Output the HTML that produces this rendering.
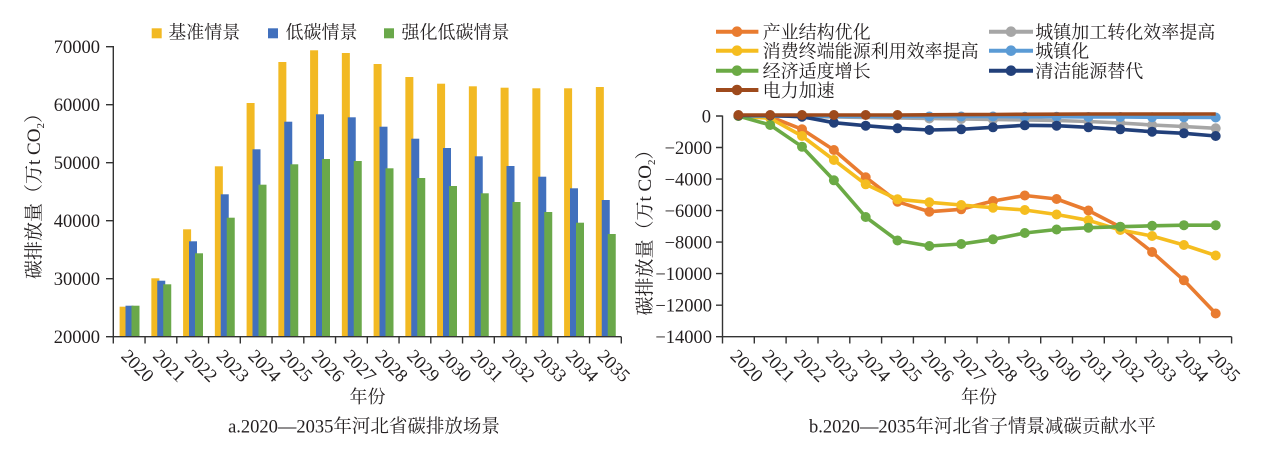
<!DOCTYPE html>
<html>
<head>
<meta charset="utf-8">
<style>
html,body{margin:0;padding:0;background:#fff;}
svg{display:block;}
.num{font-family:"Liberation Serif","Noto Serif CJK SC",serif;font-size:18.5px;fill:#231f20;}
.cjk{font-family:"Liberation Serif","Noto Serif CJK SC","Noto Sans CJK SC",serif;font-size:18px;fill:#231f20;}
.cap{font-family:"Liberation Serif","Noto Serif CJK SC","Noto Sans CJK SC",serif;font-size:18.5px;fill:#231f20;}
</style>
</head>
<body>
<svg width="1268" height="463" viewBox="0 0 1268 463" xmlns="http://www.w3.org/2000/svg">
<rect width="1268" height="463" fill="#fff"/>

<!-- ================= LEFT CHART ================= -->
<!-- legend -->
<rect x="151.7" y="28.3" width="10" height="10" fill="#F2B923"/>
<text class="cjk" x="168.3" y="38.5">基准情景</text>
<rect x="268" y="28.3" width="10" height="10" fill="#4170BD"/>
<text class="cjk" x="285.5" y="38.5">低碳情景</text>
<rect x="384" y="28.3" width="10" height="10" fill="#6AA84A"/>
<text class="cjk" x="401.5" y="38.5">强化低碳情景</text>

<!-- bars yellow -->
<g fill="#F2B923">
<rect x="119.6" y="306.7" width="8" height="30"/>
<rect x="151.35" y="278.3" width="8" height="58.4"/>
<rect x="183.1" y="229.3" width="8" height="107.4"/>
<rect x="214.85" y="166.3" width="8" height="170.4"/>
<rect x="246.6" y="103" width="8" height="233.7"/>
<rect x="278.35" y="62" width="8" height="274.7"/>
<rect x="310.1" y="50.3" width="8" height="286.4"/>
<rect x="341.85" y="53" width="8" height="283.7"/>
<rect x="373.6" y="64" width="8" height="272.7"/>
<rect x="405.35" y="77" width="8" height="259.7"/>
<rect x="437.1" y="83.7" width="8" height="253"/>
<rect x="468.85" y="86.3" width="8" height="250.4"/>
<rect x="500.6" y="87.7" width="8" height="249"/>
<rect x="532.35" y="88.3" width="8" height="248.4"/>
<rect x="564.1" y="88.3" width="8" height="248.4"/>
<rect x="595.85" y="87" width="8" height="249.7"/>
</g>
<!-- bars blue -->
<g fill="#4170BD">
<rect x="125.5" y="305.7" width="8" height="31"/>
<rect x="157.25" y="280.7" width="8" height="56"/>
<rect x="189.0" y="241.3" width="8" height="95.4"/>
<rect x="220.75" y="194.3" width="8" height="142.4"/>
<rect x="252.5" y="149.3" width="8" height="187.4"/>
<rect x="284.25" y="121.7" width="8" height="215"/>
<rect x="316.0" y="114.3" width="8" height="222.4"/>
<rect x="347.75" y="117.3" width="8" height="219.4"/>
<rect x="379.5" y="126.7" width="8" height="210"/>
<rect x="411.25" y="138.7" width="8" height="198"/>
<rect x="443.0" y="148" width="8" height="188.7"/>
<rect x="474.75" y="156.3" width="8" height="180.4"/>
<rect x="506.5" y="166" width="8" height="170.7"/>
<rect x="538.25" y="176.7" width="8" height="160"/>
<rect x="570.0" y="188.3" width="8" height="148.4"/>
<rect x="601.75" y="200" width="8" height="136.7"/>
</g>
<!-- bars green -->
<g fill="#6AA84A">
<rect x="131.5" y="305.7" width="8" height="31"/>
<rect x="163.25" y="284.3" width="8" height="52.4"/>
<rect x="195.0" y="253.3" width="8" height="83.4"/>
<rect x="226.75" y="217.7" width="8" height="119"/>
<rect x="258.5" y="184.7" width="8" height="152"/>
<rect x="290.25" y="164.3" width="8" height="172.4"/>
<rect x="322.0" y="159" width="8" height="177.7"/>
<rect x="353.75" y="161" width="8" height="175.7"/>
<rect x="385.5" y="168.3" width="8" height="168.4"/>
<rect x="417.25" y="178" width="8" height="158.7"/>
<rect x="449.0" y="186" width="8" height="150.7"/>
<rect x="480.75" y="193.3" width="8" height="143.4"/>
<rect x="512.5" y="202" width="8" height="134.7"/>
<rect x="544.25" y="212" width="8" height="124.7"/>
<rect x="576.0" y="222.7" width="8" height="114"/>
<rect x="607.75" y="234" width="8" height="102.7"/>
</g>

<!-- left axes -->
<g stroke="#333" stroke-width="1.4" fill="none">
<line x1="113.3" y1="46" x2="113.3" y2="337.2"/>
<line x1="112.6" y1="336.7" x2="621.3" y2="336.7"/>
<line x1="106" y1="46.7" x2="113.3" y2="46.7"/>
<line x1="106" y1="104.7" x2="113.3" y2="104.7"/>
<line x1="106" y1="162.7" x2="113.3" y2="162.7"/>
<line x1="106" y1="220.7" x2="113.3" y2="220.7"/>
<line x1="106" y1="278.7" x2="113.3" y2="278.7"/>
<line x1="106" y1="336.7" x2="113.3" y2="336.7"/>
<path d="M113.3 336.7V343.5M145.05 336.7V343.5M176.8 336.7V343.5M208.55 336.7V343.5M240.3 336.7V343.5M272.05 336.7V343.5M303.8 336.7V343.5M335.55 336.7V343.5M367.3 336.7V343.5M399.05 336.7V343.5M430.8 336.7V343.5M462.55 336.7V343.5M494.3 336.7V343.5M526.05 336.7V343.5M557.8 336.7V343.5M589.55 336.7V343.5M621.3 336.7V343.5"/>
</g>
<g class="num" text-anchor="end">
<text x="100" y="53.2">70000</text>
<text x="100" y="111.2">60000</text>
<text x="100" y="169.2">50000</text>
<text x="100" y="227.2">40000</text>
<text x="100" y="285.2">30000</text>
<text x="100" y="343.2">20000</text>
</g>
<g class="num">
<text transform="translate(120.2,357) rotate(45)">2020</text>
<text transform="translate(151.95,357) rotate(45)">2021</text>
<text transform="translate(183.7,357) rotate(45)">2022</text>
<text transform="translate(215.45,357) rotate(45)">2023</text>
<text transform="translate(247.2,357) rotate(45)">2024</text>
<text transform="translate(278.95,357) rotate(45)">2025</text>
<text transform="translate(310.7,357) rotate(45)">2026</text>
<text transform="translate(342.45,357) rotate(45)">2027</text>
<text transform="translate(374.2,357) rotate(45)">2028</text>
<text transform="translate(405.95,357) rotate(45)">2029</text>
<text transform="translate(437.7,357) rotate(45)">2030</text>
<text transform="translate(469.45,357) rotate(45)">2031</text>
<text transform="translate(501.2,357) rotate(45)">2032</text>
<text transform="translate(532.95,357) rotate(45)">2033</text>
<text transform="translate(564.7,357) rotate(45)">2034</text>
<text transform="translate(596.45,357) rotate(45)">2035</text>
</g>
<text class="cjk" x="367.5" y="402.8" text-anchor="middle">年份</text>
<text class="cap" x="364" y="432.3" text-anchor="middle">a.2020—2035年河北省碳排放场景</text>
<text class="cjk" style="font-size:19px" transform="translate(33,191.5) rotate(-90)" x="0" y="7" text-anchor="middle">碳排放量（万t CO<tspan font-size="11" dy="4">2</tspan><tspan dy="-4">）</tspan></text>

<!-- ================= RIGHT CHART ================= -->
<!-- legend -->
<g stroke-width="4" fill="none">
<line x1="716" y1="31.7" x2="758.4" y2="31.7" stroke="#E97C30"/>
<line x1="716" y1="50.7" x2="758.4" y2="50.7" stroke="#F5BD1F"/>
<line x1="716" y1="70.7" x2="758.4" y2="70.7" stroke="#6BAA45"/>
<line x1="716" y1="90" x2="758.4" y2="90" stroke="#9E4A1C"/>
<line x1="989" y1="31.7" x2="1033" y2="31.7" stroke="#A6A6A6"/>
<line x1="989" y1="50.7" x2="1033" y2="50.7" stroke="#5B9BD5"/>
<line x1="989" y1="70.7" x2="1033" y2="70.7" stroke="#22407A"/>
</g>
<circle cx="737" cy="31.7" r="5.3" fill="#E97C30"/>
<circle cx="737" cy="50.7" r="5.3" fill="#F5BD1F"/>
<circle cx="737" cy="70.7" r="5.3" fill="#6BAA45"/>
<circle cx="737" cy="90" r="5.3" fill="#9E4A1C"/>
<circle cx="1011" cy="31.7" r="5.3" fill="#A6A6A6"/>
<circle cx="1011" cy="50.7" r="5.3" fill="#5B9BD5"/>
<circle cx="1011" cy="70.7" r="5.3" fill="#22407A"/>
<g class="cjk">
<text x="762.6" y="38.5">产业结构优化</text>
<text x="762.6" y="57.5">消费终端能源利用效率提高</text>
<text x="762.6" y="77.5">经济适度增长</text>
<text x="762.6" y="96.8">电力加速</text>
<text x="1035.3" y="38.5">城镇加工转化效率提高</text>
<text x="1035.3" y="57.5">城镇化</text>
<text x="1035.3" y="77.5">清洁能源替代</text>
</g>

<!-- right axes -->
<g stroke="#333" stroke-width="1.4" fill="none">
<line x1="722.5" y1="115.5" x2="722.5" y2="337.2"/>
<line x1="721.8" y1="336.7" x2="1231.6" y2="336.7"/>
<path d="M716 116H722.5M716 147.5H722.5M716 179.1H722.5M716 210.6H722.5M716 242.1H722.5M716 273.6H722.5M716 305.2H722.5M716 336.7H722.5"/>
<path d="M722.5 336.7V343.5M754.3 336.7V343.5M786.1 336.7V343.5M818 336.7V343.5M849.8 336.7V343.5M881.6 336.7V343.5M913.4 336.7V343.5M945.2 336.7V343.5M977.1 336.7V343.5M1008.9 336.7V343.5M1040.7 336.7V343.5M1072.5 336.7V343.5M1104.3 336.7V343.5M1136.2 336.7V343.5M1168 336.7V343.5M1199.8 336.7V343.5M1231.6 336.7V343.5"/>
</g>
<g class="num" text-anchor="end">
<text x="711" y="122.5">0</text>
<text x="712" y="154">−2000</text>
<text x="712" y="185.6">−4000</text>
<text x="712" y="217.1">−6000</text>
<text x="712" y="248.6">−8000</text>
<text x="712" y="280.1">−10000</text>
<text x="712" y="311.7">−12000</text>
<text x="712" y="343.2">−14000</text>
</g>
<g class="num">
<text transform="translate(729.4,357) rotate(45)">2020</text>
<text transform="translate(761.2,357) rotate(45)">2021</text>
<text transform="translate(793.0,357) rotate(45)">2022</text>
<text transform="translate(824.9,357) rotate(45)">2023</text>
<text transform="translate(856.7,357) rotate(45)">2024</text>
<text transform="translate(888.5,357) rotate(45)">2025</text>
<text transform="translate(920.3,357) rotate(45)">2026</text>
<text transform="translate(952.2,357) rotate(45)">2027</text>
<text transform="translate(984.0,357) rotate(45)">2028</text>
<text transform="translate(1015.8,357) rotate(45)">2029</text>
<text transform="translate(1047.6,357) rotate(45)">2030</text>
<text transform="translate(1079.4,357) rotate(45)">2031</text>
<text transform="translate(1111.3,357) rotate(45)">2032</text>
<text transform="translate(1143.1,357) rotate(45)">2033</text>
<text transform="translate(1174.9,357) rotate(45)">2034</text>
<text transform="translate(1206.7,357) rotate(45)">2035</text>
</g>
<text class="cjk" x="979" y="402.8" text-anchor="middle">年份</text>
<text class="cap" x="982.5" y="432.3" text-anchor="middle">b.2020—2035年河北省子情景减碳贡献水平</text>
<text class="cjk" style="font-size:19px" transform="translate(644,228) rotate(-90)" x="0" y="7" text-anchor="middle">碳排放量（万t CO<tspan font-size="11" dy="4">2</tspan><tspan dy="-4">）</tspan></text>

<!-- series: orange -->
<g fill="#E97C30">
<polyline fill="none" stroke="#E97C30" stroke-width="3.6" stroke-linejoin="round" points="738.4,116 770.2,116.7 802.0,129.3 833.9,150 865.7,177.3 897.5,201.7 929.3,211.7 961.2,209.3 993.0,201 1024.8,195.5 1056.6,199 1088.4,210.5 1120.3,227 1152.1,252 1183.9,280.3 1215.7,313.5"/>
<circle cx="738.4" cy="116" r="5"/><circle cx="770.2" cy="116.7" r="5"/><circle cx="802.0" cy="129.3" r="5"/><circle cx="833.9" cy="150" r="5"/><circle cx="865.7" cy="177.3" r="5"/><circle cx="897.5" cy="201.7" r="5"/><circle cx="929.3" cy="211.7" r="5"/><circle cx="961.2" cy="209.3" r="5"/><circle cx="993.0" cy="201" r="5"/><circle cx="1024.8" cy="195.5" r="5"/><circle cx="1056.6" cy="199" r="5"/><circle cx="1088.4" cy="210.5" r="5"/><circle cx="1120.3" cy="227" r="5"/><circle cx="1152.1" cy="252" r="5"/><circle cx="1183.9" cy="280.3" r="5"/><circle cx="1215.7" cy="313.5" r="5"/>
</g>
<!-- grey -->
<g fill="#A6A6A6">
<polyline fill="none" stroke="#A6A6A6" stroke-width="3.6" stroke-linejoin="round" points="738.4,116 770.2,116 802.0,116.5 833.9,117 865.7,117.5 897.5,118 929.3,118.5 961.2,119 993.0,119.5 1024.8,120 1056.6,120.5 1088.4,121.5 1120.3,123 1152.1,125 1183.9,126.5 1215.7,128.3"/>
<circle cx="929.3" cy="118.5" r="5"/><circle cx="961.2" cy="119" r="5"/><circle cx="993.0" cy="119.5" r="5"/><circle cx="1024.8" cy="120" r="5"/><circle cx="1056.6" cy="120.5" r="5"/><circle cx="1088.4" cy="121.5" r="5"/><circle cx="1120.3" cy="123" r="5"/><circle cx="1152.1" cy="125" r="5"/><circle cx="1183.9" cy="126.5" r="5"/><circle cx="1215.7" cy="128.3" r="5"/>
</g>
<!-- yellow -->
<g fill="#F5BD1F">
<polyline fill="none" stroke="#F5BD1F" stroke-width="3.6" stroke-linejoin="round" points="738.4,116 770.2,118.3 802.0,136 833.9,160 865.7,184.3 897.5,199.3 929.3,202.3 961.2,205 993.0,207.7 1024.8,210 1056.6,214.5 1088.4,220.3 1120.3,230 1152.1,236 1183.9,245 1215.7,255.5"/>
<circle cx="738.4" cy="116" r="5"/><circle cx="770.2" cy="118.3" r="5"/><circle cx="802.0" cy="136" r="5"/><circle cx="833.9" cy="160" r="5"/><circle cx="865.7" cy="184.3" r="5"/><circle cx="897.5" cy="199.3" r="5"/><circle cx="929.3" cy="202.3" r="5"/><circle cx="961.2" cy="205" r="5"/><circle cx="993.0" cy="207.7" r="5"/><circle cx="1024.8" cy="210" r="5"/><circle cx="1056.6" cy="214.5" r="5"/><circle cx="1088.4" cy="220.3" r="5"/><circle cx="1120.3" cy="230" r="5"/><circle cx="1152.1" cy="236" r="5"/><circle cx="1183.9" cy="245" r="5"/><circle cx="1215.7" cy="255.5" r="5"/>
</g>
<!-- light blue -->
<g fill="#5B9BD5">
<polyline fill="none" stroke="#5B9BD5" stroke-width="3.6" stroke-linejoin="round" points="738.4,116 770.2,116 802.0,116 833.9,116.3 865.7,116.5 897.5,116.5 929.3,116.5 961.2,116.5 993.0,116.5 1024.8,116.7 1056.6,116.7 1088.4,117 1120.3,117 1152.1,117.2 1183.9,117.3 1215.7,117.5"/>
<circle cx="929.3" cy="116.5" r="5"/><circle cx="961.2" cy="116.5" r="5"/><circle cx="993.0" cy="116.5" r="5"/><circle cx="1024.8" cy="116.7" r="5"/><circle cx="1056.6" cy="116.7" r="5"/><circle cx="1088.4" cy="117" r="5"/><circle cx="1120.3" cy="117" r="5"/><circle cx="1152.1" cy="117.2" r="5"/><circle cx="1183.9" cy="117.3" r="5"/><circle cx="1215.7" cy="117.5" r="5"/>
</g>
<!-- green -->
<g fill="#6BAA45">
<polyline fill="none" stroke="#6BAA45" stroke-width="3.6" stroke-linejoin="round" points="738.4,116 770.2,125 802.0,146.7 833.9,180.3 865.7,217 897.5,240.5 929.3,246 961.2,244 993.0,239.3 1024.8,233 1056.6,229.5 1088.4,227.7 1120.3,226.7 1152.1,225.8 1183.9,225.2 1215.7,225.2"/>
<circle cx="738.4" cy="116" r="5"/><circle cx="770.2" cy="125" r="5"/><circle cx="802.0" cy="146.7" r="5"/><circle cx="833.9" cy="180.3" r="5"/><circle cx="865.7" cy="217" r="5"/><circle cx="897.5" cy="240.5" r="5"/><circle cx="929.3" cy="246" r="5"/><circle cx="961.2" cy="244" r="5"/><circle cx="993.0" cy="239.3" r="5"/><circle cx="1024.8" cy="233" r="5"/><circle cx="1056.6" cy="229.5" r="5"/><circle cx="1088.4" cy="227.7" r="5"/><circle cx="1120.3" cy="226.7" r="5"/><circle cx="1152.1" cy="225.8" r="5"/><circle cx="1183.9" cy="225.2" r="5"/><circle cx="1215.7" cy="225.2" r="5"/>
</g>
<!-- navy -->
<g fill="#22407A">
<polyline fill="none" stroke="#22407A" stroke-width="3.6" stroke-linejoin="round" points="738.4,115.5 770.2,115.5 802.0,116.7 833.9,122.7 865.7,125.7 897.5,128.3 929.3,130 961.2,129.3 993.0,127.3 1024.8,125.3 1056.6,125.7 1088.4,127.3 1120.3,129.3 1152.1,131.7 1183.9,133.3 1215.7,136"/>
<circle cx="738.4" cy="115.5" r="5"/><circle cx="770.2" cy="115.5" r="5"/><circle cx="802.0" cy="116.7" r="5"/><circle cx="833.9" cy="122.7" r="5"/><circle cx="865.7" cy="125.7" r="5"/><circle cx="897.5" cy="128.3" r="5"/><circle cx="929.3" cy="130" r="5"/><circle cx="961.2" cy="129.3" r="5"/><circle cx="993.0" cy="127.3" r="5"/><circle cx="1024.8" cy="125.3" r="5"/><circle cx="1056.6" cy="125.7" r="5"/><circle cx="1088.4" cy="127.3" r="5"/><circle cx="1120.3" cy="129.3" r="5"/><circle cx="1152.1" cy="131.7" r="5"/><circle cx="1183.9" cy="133.3" r="5"/><circle cx="1215.7" cy="136" r="5"/>
</g>
<!-- brown -->
<g fill="#9E4A1C">
<polyline fill="none" stroke="#9E4A1C" stroke-width="3.6" stroke-linejoin="round" points="738.4,115 770.2,115 802.0,115 833.9,115 865.7,115 897.5,115 929.3,114.8 961.2,114.6 993.0,114.5 1024.8,114.3 1056.6,114.2 1088.4,114 1120.3,114 1152.1,114 1183.9,114 1215.7,114"/>
<circle cx="738.4" cy="115" r="5"/><circle cx="770.2" cy="115" r="5"/><circle cx="802.0" cy="115" r="5"/><circle cx="833.9" cy="115" r="5"/><circle cx="865.7" cy="115" r="5"/><circle cx="897.5" cy="115" r="5"/>
</g>
</svg>
</body>
</html>
